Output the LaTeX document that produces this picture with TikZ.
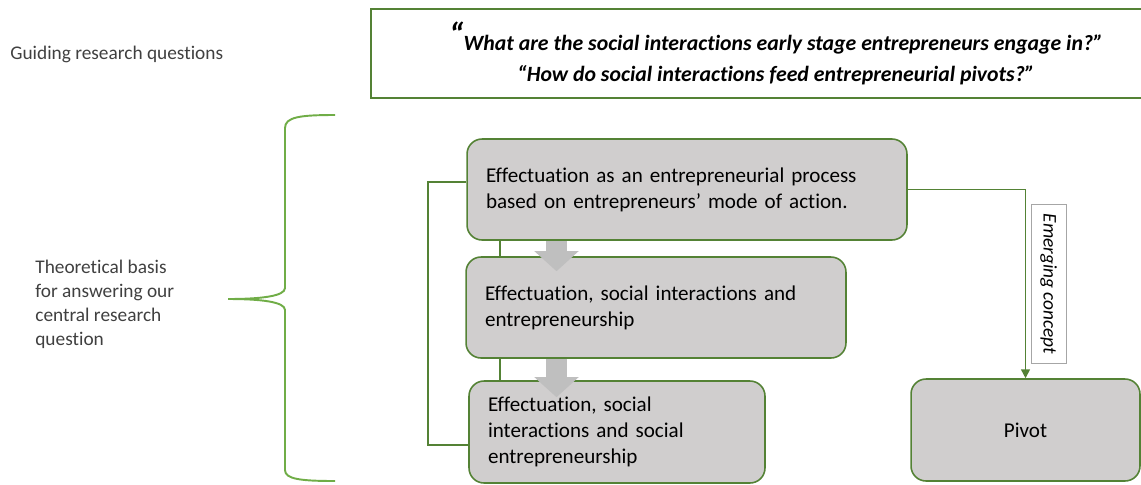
\documentclass[tikz,border=0pt]{standalone}
\usepackage{fontspec}
\setmainfont{Carlito}[Ligatures=NoCommon]
\usetikzlibrary{arrows.meta,positioning,calc}
\definecolor{boxgreen}{RGB}{84,130,53}
\definecolor{bracegreen}{RGB}{112,173,71}
\definecolor{boxgray}{RGB}{208,206,206}
\definecolor{arrowgray}{RGB}{191,191,191}
\definecolor{labelgray}{RGB}{64,64,64}
\tikzset{stagebox/.style={draw=boxgreen, line width=0.9pt, fill=boxgray, rounded corners=0.3cm,
    minimum height=2.02cm, inner xsep=0.38cm, inner ysep=0pt, align=left,
    font=\fontsize{12}{14.7}\selectfont, text=black}}
\tikzset{link/.style={draw=boxgreen, line width=0.9pt}}
\tikzset{flowarrow/.style={draw=arrowgray, line width=0.42cm, -{Triangle[width=0.86cm,length=0.4cm]}}}
\tikzset{sidelabel/.style={text=labelgray, align=left, inner sep=0pt, font=\fontsize{11}{13.6}\selectfont}}

\begin{document}
\begin{tikzpicture}[x=0.02cm,y=-0.02cm]
\useasboundingbox (0,0) rectangle (1141,484);

\node[sidelabel, anchor=west] (guiding) at (10,54) {Guiding research questions};
\node[sidelabel, anchor=west] (basis) at (35,304) {Theoretical basis\\for answering our\\central research\\question};

\node[draw=boxgreen, line width=0.9pt, minimum width=16.2cm, minimum height=1.78cm, align=center,
      font=\bfseries\itshape\fontsize{12.4}{17.6}\selectfont] (questions) at (776,53.5)
  {\raisebox{2pt}{\fontsize{19}{19}\selectfont “}What are the social interactions early stage entrepreneurs engage in?”\\
   “How do social interactions feed entrepreneurial pivots?”};

\draw[bracegreen, line width=1.1pt] (335,115) .. controls (300,115) and (285,117) .. (285,128)
  -- (285,288) .. controls (285,296) and (262,299) .. (228,299)
  .. controls (262,299) and (285,302) .. (285,310)
  -- (285,470) .. controls (285,479) and (300,481) .. (335,481);

\coordinate (stub) at (500,0);
\coordinate (flow) at (556.5,0);

\node[stagebox, text width=8.04cm, minimum width=8.8cm] (process) at (687,189.5)
  {Effectuation as an entrepreneurial process\\based on entrepreneurs’ mode of action.};
\node[stagebox, text width=6.84cm, minimum width=7.6cm] (social) at (656,307.5)
  {Effectuation, social interactions and\\entrepreneurship};
\node[stagebox, text width=5.16cm, minimum width=5.88cm, minimum height=2.04cm] (socent) at (617,432)
  {Effectuation, social\\interactions and social\\entrepreneurship};
\node[stagebox, align=center, minimum width=4.58cm, minimum height=2.04cm] (pivot) at (1025.5,430) {Pivot};

\draw[link] (process.south -| stub) -- (social.north -| stub);
\draw[link] (social.south -| stub) -- (socent.north -| stub);
\draw[link] ([yshift=0.15cm]process.west) -- ++(-38,0) |- ([yshift=-0.26cm]socent.west);
\draw[link, -{Triangle[width=5pt,length=5pt]}] (process.east) -| (pivot.north);

\node[draw=gray!70, fill=white, rotate=-90, minimum width=3.18cm, minimum height=0.7cm,
      font=\itshape\fontsize{11}{13}\selectfont] (emerging) at (1048.5,284) {Emerging concept};

\draw[flowarrow] (process.south -| flow) -- ([yshift=-0.3cm]social.north -| flow);
\draw[flowarrow] (social.south -| flow) -- ([yshift=-0.34cm]socent.north -| flow);

\end{tikzpicture}
\end{document}
